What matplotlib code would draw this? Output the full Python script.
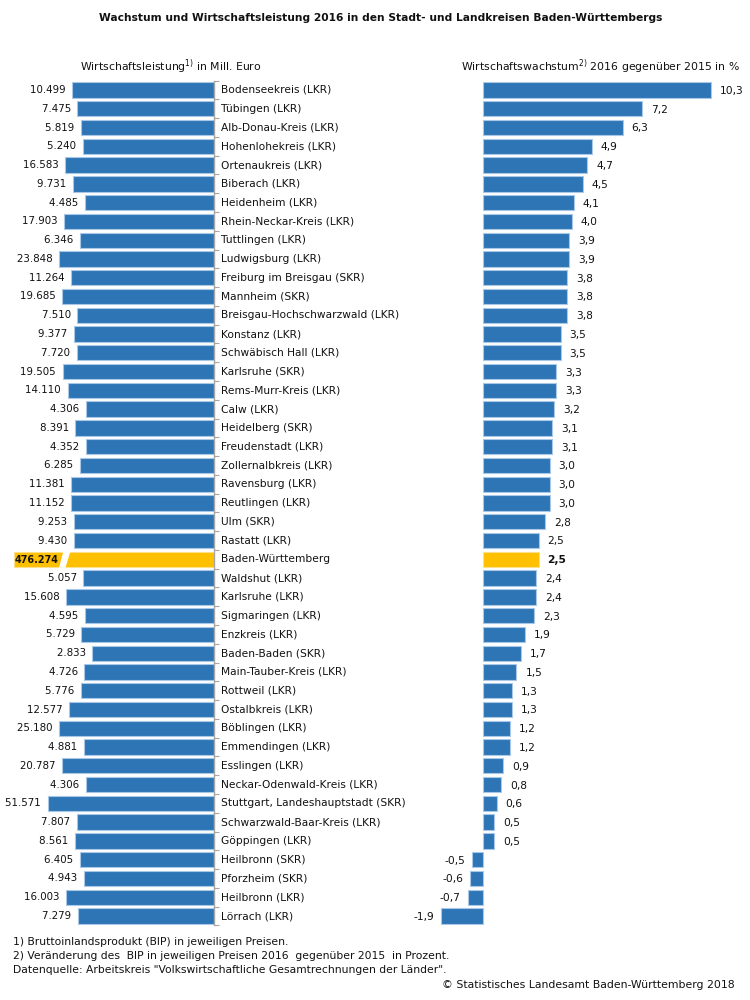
import matplotlib
matplotlib.use("Agg")
import matplotlib.pyplot as plt
from matplotlib import transforms
from matplotlib.patches import Polygon

categories = [
    "Bodenseekreis (LKR)", "Tübingen (LKR)", "Alb-Donau-Kreis (LKR)", "Hohenlohekreis (LKR)",
    "Ortenaukreis (LKR)", "Biberach (LKR)", "Heidenheim (LKR)", "Rhein-Neckar-Kreis (LKR)",
    "Tuttlingen (LKR)", "Ludwigsburg (LKR)", "Freiburg im Breisgau (SKR)", "Mannheim (SKR)",
    "Breisgau-Hochschwarzwald (LKR)", "Konstanz (LKR)", "Schwäbisch Hall (LKR)", "Karlsruhe (SKR)",
    "Rems-Murr-Kreis (LKR)", "Calw (LKR)", "Heidelberg (SKR)", "Freudenstadt (LKR)",
    "Zollernalbkreis (LKR)", "Ravensburg (LKR)", "Reutlingen (LKR)", "Ulm (SKR)",
    "Rastatt (LKR)", "Baden-Württemberg", "Waldshut (LKR)", "Karlsruhe (LKR)",
    "Sigmaringen (LKR)", "Enzkreis (LKR)", "Baden-Baden (SKR)", "Main-Tauber-Kreis (LKR)",
    "Rottweil (LKR)", "Ostalbkreis (LKR)", "Böblingen (LKR)", "Emmendingen (LKR)",
    "Esslingen (LKR)", "Neckar-Odenwald-Kreis (LKR)", "Stuttgart, Landeshauptstadt (SKR)",
    "Schwarzwald-Baar-Kreis (LKR)", "Göppingen (LKR)", "Heilbronn (SKR)", "Pforzheim (SKR)",
    "Heilbronn (LKR)", "Lörrach (LKR)",
]
# Wirtschaftsleistung in Mill. Euro
output_mio = [
    10499, 7475, 5819, 5240, 16583, 9731, 4485, 17903, 6346, 23848, 11264, 19685,
    7510, 9377, 7720, 19505, 14110, 4306, 8391, 4352, 6285, 11381, 11152, 9253,
    9430, 476274, 5057, 15608, 4595, 5729, 2833, 4726, 5776, 12577, 25180, 4881,
    20787, 4306, 51571, 7807, 8561, 6405, 4943, 16003, 7279,
]
# Wirtschaftswachstum 2016 gegenüber 2015 in %
growth = [
    10.3, 7.2, 6.3, 4.9, 4.7, 4.5, 4.1, 4.0, 3.9, 3.9, 3.8, 3.8,
    3.8, 3.5, 3.5, 3.3, 3.3, 3.2, 3.1, 3.1, 3.0, 3.0, 3.0, 2.8,
    2.5, 2.5, 2.4, 2.4, 2.3, 1.9, 1.7, 1.5, 1.3, 1.3, 1.2, 1.2,
    0.9, 0.8, 0.6, 0.5, 0.5, -0.5, -0.6, -0.7, -1.9,
]
highlight = "Baden-Württemberg"

W, H = 750, 1000
BLUE = "#2E75B6"
BLUE_EDGE = "#A9C8E8"
YELLOW = "#FFC000"
YELLOW_EDGE = "#FFE08A"
TXT = "#111111"
FS = 7.7
FS_NUM = 7.4

fig = plt.figure(figsize=(W / 100, H / 100), dpi=100)

n = len(categories)
ytop, ybot = 80.6, 925.4

def ax_rect(x0, x1):
    return [x0 / W, 1 - ybot / H, (x1 - x0) / W, (ybot - ytop) / H]

# ---- left panel (log scale, inverted) ----
axL_right = 214.0
px_per_dec = 35.3
axL = fig.add_axes(ax_rect(0, axL_right))
axL.set_xscale("log")
axL.set_xlim(10 ** (axL_right / px_per_dec), 1)
axL.set_ylim(n - 0.5, -0.5)
ys = list(range(n))
colorsL = [YELLOW if c == highlight else BLUE for c in categories]
edgesL = [YELLOW_EDGE if c == highlight else BLUE_EDGE for c in categories]
axL.barh(ys, output_mio, left=1, height=0.815, color=colorsL, edgecolor=edgesL, linewidth=0.8)
for s in ["top", "left", "bottom"]:
    axL.spines[s].set_visible(False)
axL.spines["right"].set_color("#A6A6A6")
axL.spines["right"].set_linewidth(1.0)
axL.xaxis.set_visible(False)
axL.yaxis.tick_right()
axL.set_yticks([i - 0.5 for i in range(n + 1)])
axL.set_yticklabels([])
axL.tick_params(axis="y", which="major", length=3.5, color="#A6A6A6", direction="out")
axL.tick_params(axis="y", which="minor", length=0)

blendL = transforms.blended_transform_factory(axL.transAxes, axL.transData)
for i, (c, v) in enumerate(zip(categories, output_mio)):
    lab = f"{v:,}".replace(",", ".")
    axL.text(1 + 7 / axL_right, i, c, transform=blendL, ha="left", va="center",
             fontsize=FS, color=TXT, clip_on=False)
    if c == highlight:
        # white slanted break in the bar
        yb, yt = i + 0.45, i - 0.45
        poly = Polygon([(59 / axL_right, yb), (65.5 / axL_right, yb),
                        (70.5 / axL_right, yt), (63.5 / axL_right, yt)],
                       closed=True, transform=blendL, facecolor="white", edgecolor="none", zorder=3)
        axL.add_patch(poly)
        axL.text(14.5 / axL_right, i + 0.05, lab, transform=blendL, ha="left", va="center",
                 fontsize=6.9, fontweight="bold", color=TXT, zorder=4)
    else:
        axL.text(v / 1.0, i, lab + "  ", ha="right", va="center", fontsize=FS_NUM, color=TXT)

# ---- right panel ----
zero_px = 483.3
px_per_unit = 22.1
xr0, xr1 = 430.0, 750.0
axR = fig.add_axes(ax_rect(xr0, xr1))
axR.set_xlim(-(zero_px - xr0) / px_per_unit, (xr1 - zero_px) / px_per_unit)
axR.set_ylim(n - 0.5, -0.5)
colorsR = [YELLOW if c == highlight else BLUE for c in categories]
edgesR = [YELLOW_EDGE if c == highlight else BLUE_EDGE for c in categories]
axR.barh(ys, growth, height=0.815, color=colorsR, edgecolor=edgesR, linewidth=0.8)
axR.axis("off")
for i, (c, g) in enumerate(zip(categories, growth)):
    lab = f"{g:.1f}".replace(".", ",")
    bold = "bold" if c == highlight else "normal"
    if g >= 0:
        axR.text(g + 9 / px_per_unit, i + 0.05, lab, ha="left", va="center",
                 fontsize=FS, color=TXT, fontweight=bold, clip_on=False)
    else:
        axR.text(g - 7 / px_per_unit, i + 0.05, lab, ha="right", va="center",
                 fontsize=FS, color=TXT, fontweight=bold)

# ---- titles and notes ----
fig.text(381 / W, 1 - 18 / H, "Wachstum und Wirtschaftsleistung 2016 in den Stadt- und Landkreisen Baden-Württembergs",
         ha="center", va="center", fontsize=7.65, fontweight="bold", color=TXT)
fig.text(80 / W, 1 - 67 / H, r"Wirtschaftsleistung$^{1)}$ in Mill. Euro",
         ha="left", va="center", fontsize=7.85, color=TXT)
fig.text(740 / W, 1 - 67 / H, r"Wirtschaftswachstum$^{2)}$ 2016 gegenüber 2015 in %",
         ha="right", va="center", fontsize=7.85, color=TXT)
notes = [
    "1) Bruttoinlandsprodukt (BIP) in jeweiligen Preisen.",
    "2) Veränderung des  BIP in jeweiligen Preisen 2016  gegenüber 2015  in Prozent.",
    "Datenquelle: Arbeitskreis \"Volkswirtschaftliche Gesamtrechnungen der Länder\".",
]
for k, t in enumerate(notes):
    fig.text(13 / W, 1 - (942 + 14 * k) / H, t, ha="left", va="center", fontsize=7.75, color=TXT)
fig.text(735 / W, 1 - 985 / H, "© Statistisches Landesamt Baden-Württemberg 2018",
         ha="right", va="center", fontsize=7.8, color=TXT)

fig.savefig("out.png", dpi=100, facecolor="white")
